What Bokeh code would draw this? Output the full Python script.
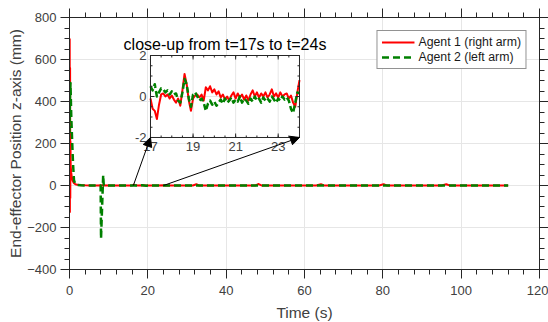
from bokeh.plotting import figure
from bokeh.models import (Range1d, LinearAxis, FixedTicker, Arrow, NormalHead,
                          Legend, LegendItem)
from bokeh.core.properties import value
from bokeh.embed import file_html
from bokeh.resources import INLINE

# ---------------- data ----------------
red_t = [0.05, 0.1, 0.15, 0.2, 0.25, 0.3, 0.45, 0.6, 0.8, 1.1, 1.5, 2.0, 3.0, 4.0, 5.5, 7.0,
         8.5, 10.0, 11.5, 13.0, 14.5, 16.0, 16.4, 16.8, 17.5, 18.6, 19.5, 21.0, 22.5, 24.0,
         25.5, 27.0, 28.5, 30.0, 31.5, 32.4, 33.0, 34.5, 36.0, 38.0, 40.0, 42.0, 44.0, 46.0,
         47.5, 48.3, 49.0, 51.0, 53.0, 55.0, 57.0, 59.0, 61.0, 63.0, 64.2, 65.0, 67.0, 69.0,
         71.0, 73.0, 75.0, 77.0, 79.0, 80.2, 81.0, 83.0, 85.0, 87.0, 89.0, 91.0, 93.0, 95.0,
         96.2, 97.0, 99.0, 101.0, 103.0, 105.0, 107.0, 109.0, 111.0, 112.0]
red_z = [700, -126, 560, -60, 210, 95, 60, 38, 22, 12, 6, 3, 1.5, 0.8, 0.5, 0.3,
         0.6, 0.2, -0.3, 0.4, 0.1, 0.5, 4, 0.8, 0.1, 1.1, -0.2, 0.1, 0.2, 0.8,
         0.2, -0.3, 0.4, 0.1, 0.3, 6, 0.5, -0.2, 0.3, 0.1, -0.2, 0.3, 0.1, 0.2,
         0.4, 7, 0.5, 0.1, -0.2, 0.3, 0.1, 0.2, -0.1, 0.3, 6, 0.4, 0.1, -0.2,
         0.3, 0.1, 0.2, -0.1, 0.3, 6, 0.4, 0.1, -0.2, 0.2, 0.1, 0.3, -0.1, 0.2,
         6, 0.4, 0.1, -0.2, 0.2, 0.1, 0.3, -0.1, 0.2, 0.1]

green_t = [0.0, 0.1, 0.25, 0.45, 0.7, 0.9, 1.15, 1.5, 2.0, 3.0, 4.5, 6.0, 7.5, 7.95, 8.05,
           8.6, 8.75, 9.5, 11.0, 12.5, 14.0, 15.5, 17.0, 18.6, 19.6, 21.0, 22.5, 24.0, 26.0,
           28.0, 30.0, 32.0, 34.0, 36.0, 38.0, 40.0, 42.0, 44.0, 46.0, 48.0, 50.0, 52.0,
           54.0, 56.0, 58.0, 60.0, 62.0, 64.0, 66.0, 68.0, 70.0, 72.0, 74.0, 76.0, 78.0,
           80.0, 82.0, 84.0, 86.0, 88.0, 90.0, 92.0, 94.0, 96.0, 98.0, 100.0, 102.0, 104.0,
           106.0, 108.0, 110.0, 112.0]
green_z = [250, 400, 488, 328, 201, 105, 25, 6, 2, 0.8, 0.4, 0.2, 0.1, 0.0, -253,
           49, 0.5, 0.2, -0.3, 0.2, 0.1, -0.2, 0.5, 0.85, -0.7, -0.15, -0.1, 0.15, -0.2,
           0.1, -0.3, 0.2, -0.1, 0.1, -0.2, 0.2, -0.1, 0.1, -0.2, 0.3, -0.1, 0.1,
           -0.2, 0.2, 0.0, -0.1, 0.2, 0.3, -0.2, 0.1, -0.1, 0.2, 0.0, -0.2, 0.1,
           0.3, -0.1, 0.1, -0.2, 0.2, 0.0, -0.1, 0.2, 0.3, -0.1, 0.1, -0.2, 0.2,
           0.0, -0.1, 0.1, 0.0]

# close-up (17 s .. 24 s)
zoom_t = [17.0, 17.1, 17.2, 17.3, 17.4, 17.5, 17.6, 17.7, 17.8, 17.9,
          18.0, 18.1, 18.2, 18.3, 18.4, 18.5, 18.6, 18.7, 18.8, 18.9,
          19.0, 19.1, 19.2, 19.3, 19.4, 19.5, 19.6, 19.7, 19.8, 19.9,
          20.0, 20.1, 20.2, 20.3, 20.4, 20.5, 20.6, 20.7, 20.8, 20.9,
          21.0, 21.1, 21.2, 21.3, 21.4, 21.5, 21.6, 21.7, 21.8, 21.9,
          22.0, 22.1, 22.2, 22.3, 22.4, 22.5, 22.6, 22.7, 22.8, 22.9,
          23.0, 23.1, 23.2, 23.3, 23.4, 23.5, 23.6, 23.7, 23.8, 23.9, 24.0]
zoom_red = [-0.1, -0.6, -0.7, -1.1, -0.4, 0.1, 0.15, 0.0, 0.1, -0.1,
            0.05, -0.15, -0.3, -0.1, -0.45, 0.3, 1.1, 0.6, -0.2, -0.7,
            -0.1, 0.05, 0.1, -0.05, 0.1, -0.2, 0.45, 0.3, 0.5, 0.2,
            0.35, 0.1, 0.25, -0.05, 0.1, -0.15, 0.0, -0.2, 0.05, 0.2,
            -0.1, 0.15, -0.05, 0.1, -0.15, 0.05, -0.2, 0.1, 0.3, 0.0,
            0.2, -0.05, 0.15, 0.0, 0.2, -0.05, 0.1, 0.35, 0.0, 0.15,
            -0.05, 0.2, 0.0, 0.1, 0.15, -0.1, 0.05, -0.3, -0.5, 0.2, 0.8]
zoom_green = [0.5, 0.3, 0.6, 0.0, 0.2, 0.4, 0.35, 0.2, 0.3, 0.1,
              0.25, 0.1, 0.15, -0.2, -0.3, 0.2, 0.85, 0.6, -0.1, -0.5,
              0.1, 0.2, 0.0, -0.2, -0.1, -0.3, -0.7, -0.35, -0.2, -0.4,
              -0.25, -0.45, -0.3, -0.15, -0.35, -0.1, -0.3, -0.2, -0.05, -0.3,
              -0.15, -0.25, 0.0, -0.3, -0.1, -0.2, -0.35, -0.1, -0.25, 0.0,
              -0.2, -0.1, -0.3, -0.05, -0.2, -0.1, -0.25, 0.0, -0.15, -0.3,
              -0.1, -0.2, 0.0, -0.15, -0.05, -0.2, -0.6, -0.8, -0.3, 0.2, 0.15]

x_ticks = [0, 20, 40, 60, 80, 100, 120]
y_ticks = [-400, -200, 0, 200, 400, 600, 800]
zoom_x_ticks = [17, 19, 21, 23]
zoom_y_ticks = [-2, 0, 2]
zoom_x_labels = ["17", "19", "21", "23"]
zoom_y_labels = ["-2", "0", "2"]
zoom_from, zoom_to = 16.3, 24.0
title_text = "close-up from t=17s to t=24s"

# ---------------- style ----------------
FONT = "Liberation Sans"
AX = "#262626"
LBL = "#404040"
GRID = "#e6e6e6"
RED = "#ff0000"
GREEN = "#008000"
XMIN, XMAX, YMIN, YMAX = 0, 120, -400, 800
FW, FH = 470, 252   # frame size in px

p = figure(frame_width=FW, frame_height=FH,
           x_range=Range1d(XMIN, XMAX), y_range=Range1d(YMIN, YMAX),
           output_backend="svg", toolbar_location=None,
           min_border_left=69, min_border_right=9, min_border_top=17, min_border_bottom=50,
           x_axis_label="Time (s)", y_axis_label="End-effector Position z-axis (mm)",
           outline_line_color=AX, background_fill_color="white", border_fill_color="white")

def style_axis(ax, ticks, minor, labels=True):
    ax.ticker = FixedTicker(ticks=ticks, minor_ticks=minor)
    ax.major_tick_out = 9
    ax.major_tick_in = 0
    ax.minor_tick_out = 5
    ax.minor_tick_in = 0
    ax.axis_line_color = AX
    ax.major_tick_line_color = AX
    ax.minor_tick_line_color = AX
    ax.major_label_text_font = FONT
    ax.axis_label_text_font = FONT
    ax.axis_label_text_font_style = "normal"
    ax.axis_label_text_font_size = "15.5px"
    ax.axis_label_text_color = LBL
    if labels:
        ax.major_label_text_color = LBL
        ax.major_label_text_font_size = "13px"
    else:
        ax.major_label_text_color = None
        ax.major_label_text_font_size = "0px"
        ax.major_label_standoff = 0

x_minor = list(range(0, 121, 4))
y_minor = list(range(-400, 801, 50))

style_axis(p.xaxis[0], x_ticks, x_minor)
p.xaxis[0].major_label_standoff = 7
p.xaxis[0].axis_label_standoff = 6
style_axis(p.yaxis[0], y_ticks, y_minor)
p.yaxis[0].major_label_standoff = 4
p.yaxis[0].axis_label_standoff = 0

top = LinearAxis()
style_axis(top, x_ticks, x_minor, labels=False)
p.add_layout(top, "above")
right = LinearAxis()
style_axis(right, y_ticks, y_minor, labels=False)
p.add_layout(right, "right")

p.xgrid.ticker = FixedTicker(ticks=x_ticks)
p.ygrid.ticker = FixedTicker(ticks=y_ticks)
p.xgrid.grid_line_color = GRID
p.ygrid.grid_line_color = GRID

# main series
r_red = p.line(red_t, red_z, line_color=RED, line_width=2, line_join="round")
r_green = p.line(green_t, green_z, line_color=GREEN, line_width=2.5, line_dash="7 4",
                 line_join="round")

# ---------------- inset (own coordinate system inside the frame) ----------------
ins_x0, ins_x1 = 20.68, 58.72      # inset box, in main x units
ins_y0, ins_y1 = 228.6, 619.0      # inset box, in main y units
zx0, zx1, zy0, zy1 = 17.0, 24.0, -2.0, 2.0
kx = (ins_x1 - ins_x0) / (zx1 - zx0)
ky = (ins_y1 - ins_y0) / (zy1 - zy0)
p.extra_x_ranges = {"ix": Range1d(zx0 - (ins_x0 - XMIN) / kx, zx1 + (XMAX - ins_x1) / kx)}
p.extra_y_ranges = {"iy": Range1d(zy0 - (ins_y0 - YMIN) / ky, zy1 + (YMAX - ins_y1) / ky)}
IR = dict(x_range_name="ix", y_range_name="iy")
px_x = ((XMAX - XMIN) / FW) / kx    # inset x units per pixel
px_y = ((YMAX - YMIN) / FH) / ky    # inset y units per pixel

p.quad(left=[zx0], right=[zx1], bottom=[zy0], top=[zy1], fill_color="white",
       line_color=None, **IR)
p.segment(x0=zoom_x_ticks[1:], x1=zoom_x_ticks[1:], y0=[zy0] * 3, y1=[zy1] * 3,
          line_color=GRID, line_width=1, **IR)
p.segment(x0=[zx0], x1=[zx1], y0=[0], y1=[0], line_color=GRID, line_width=1, **IR)

p.line(zoom_t, zoom_red, line_color=RED, line_width=2, line_join="round", **IR)
p.line(zoom_t, zoom_green, line_color=GREEN, line_width=2.5, line_dash="6 3",
       line_join="round", **IR)

zx_minor = [17 + 0.5 * i for i in range(15)]
zy_minor = [-2 + 0.5 * i for i in range(9)]
for xs, L in ((zoom_x_ticks, 4), (zx_minor, 2)):
    n = len(xs)
    p.segment(x0=xs, x1=xs, y0=[zy0] * n, y1=[zy0 + L * px_y] * n, line_color=AX, **IR)
    p.segment(x0=xs, x1=xs, y0=[zy1] * n, y1=[zy1 - L * px_y] * n, line_color=AX, **IR)
for ys, L in ((zoom_y_ticks, 4), (zy_minor, 2)):
    n = len(ys)
    p.segment(x0=[zx0] * n, x1=[zx0 + L * px_x] * n, y0=ys, y1=ys, line_color=AX, **IR)
    p.segment(x0=[zx1] * n, x1=[zx1 - L * px_x] * n, y0=ys, y1=ys, line_color=AX, **IR)
p.quad(left=[zx0], right=[zx1], bottom=[zy0], top=[zy1], fill_alpha=0,
       line_color=AX, line_width=1, **IR)

p.text(x=zoom_x_ticks, y=[zy0] * len(zoom_x_ticks), text=zoom_x_labels,
       text_align="center", text_baseline="top", y_offset=5,
       text_font=value(FONT), text_font_size="13px", text_color=LBL, **IR)
p.text(x=[zx0] * len(zoom_y_ticks), y=zoom_y_ticks, text=zoom_y_labels,
       text_align="right", text_baseline="middle", x_offset=-4,
       text_font=value(FONT), text_font_size="13px", text_color=LBL, **IR)
p.text(x=[(zx0 + zx1) / 2], y=[zy1], text=[title_text],
       text_align="center", text_baseline="bottom", y_offset=-3,
       text_font=value(FONT), text_font_size="16px", text_color="black", **IR)

for xs, xe in ((zoom_from, ins_x0), (zoom_to, ins_x1)):
    p.add_layout(Arrow(end=NormalHead(size=9, fill_color="black", line_color="black"),
                       x_start=xs, y_start=0, x_end=xe, y_end=ins_y0,
                       line_color="black", line_width=1))

legend = Legend(items=[LegendItem(label="Agent 1 (right arm)", renderers=[r_red]),
                       LegendItem(label="Agent 2 (left arm)", renderers=[r_green])],
                location="top_right", margin=13, padding=4, spacing=1,
                glyph_width=33, glyph_height=14, label_height=14, label_standoff=4,
                label_text_font=FONT, label_text_font_size="12.3px",
                label_text_color="#1a1a1a", border_line_color=AX, border_line_width=1,
                background_fill_color="white", background_fill_alpha=1)
p.add_layout(legend)

open("out.html", "w").write(file_html(p, INLINE))
